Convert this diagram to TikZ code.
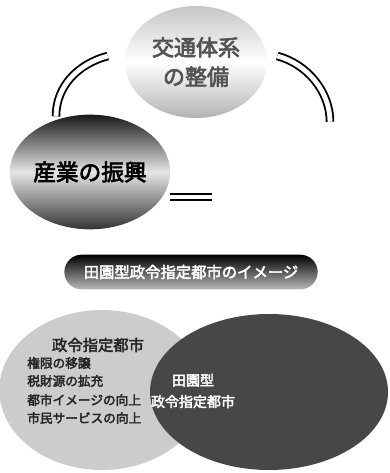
\documentclass[tikz,border=0pt]{standalone}
\usepackage{fontspec}
\newfontfamily\jp[FakeBold=3]{Noto Sans CJK JP}
\usepackage{tikz}
\usetikzlibrary{calc, shapes.geometric, positioning}
\tikzset{
  theme/.style={
    ellipse, inner sep=0pt, align=center, font=\jp
  },
  banner/.style={
    rectangle, rounded corners=13pt, minimum width=190pt, minimum height=26pt,
    top color=black, bottom color=gray!55, text=white, font=\jp\fontsize{11.5}{13}\selectfont
  },
  link/.style={
    draw=black, line width=1.4pt, double=white, double distance=3.6pt
  }
}

\begin{document}
\begin{tikzpicture}[
  x=0.75pt, y=-0.75pt,
  bubble/.style={ellipse, inner sep=0pt},
  item/.style={anchor=west, inner sep=0pt, text=black!85, font=\jp\fontsize{9.5}{11}\selectfont}
]
\useasboundingbox (0,0) rectangle (389,473);

% three themes
\node[theme, minimum width=106.5pt, minimum height=84pt,
  top color=gray!45, bottom color=gray!60, middle color=white,
  text=gray!65!black, font=\jp\fontsize{16.5}{22}\selectfont] (traffic) at (196,62) {交通体系\\の整備};
\node[theme, minimum width=116pt, minimum height=86pt,
  top color=black!90, bottom color=black!80, middle color=gray!20,
  font=\jp\fontsize{17}{20}\selectfont] (industry) at (90,172) {産業の振興};
\node[theme, minimum width=120pt, minimum height=37.5pt] (life) at (292,172) {};

\draw[link] ($(traffic.west)+(-17,-6)$) .. controls +(-30,8) and +(0,-30) .. ($(industry.north)+(-34,2)$);
\draw[link] ($(traffic.east)+(10,-6)$) .. controls +(30,8) and +(0,-30) .. ($(life.north)+(38,-25)$);
\draw[link] ($(industry.east)+(0,25)$) -- ($(life.west)+(0,25)$);

% image
\node[banner] (title) at (191,272) {田園型政令指定都市のイメージ};

\node[bubble, minimum width=154pt, minimum height=120pt, fill=gray!40] (city) at (102,390) {};
\node[inner sep=0pt, text=gray!30!black, font=\jp\fontsize{11.5}{13}\selectfont] (cityname) at (98,345) {政令指定都市};
\node[item] (c1) at (27,363) {権限の移譲};
\node[item] (c2) at (27,381) {税財源の拡充};
\node[item] (c3) at (27,400) {都市イメージの向上};
\node[item] (c4) at (27,418) {市民サービスの向上};

\node[bubble, minimum width=178.5pt, minimum height=117pt, fill=black!72] (rural) at (269,392) {};
\node[align=center, inner sep=0pt, text=white, font=\jp\fontsize{10.5}{16}\selectfont] (ruralname) at (193,391) {田園型\\政令指定都市};
\end{tikzpicture}
\end{document}
